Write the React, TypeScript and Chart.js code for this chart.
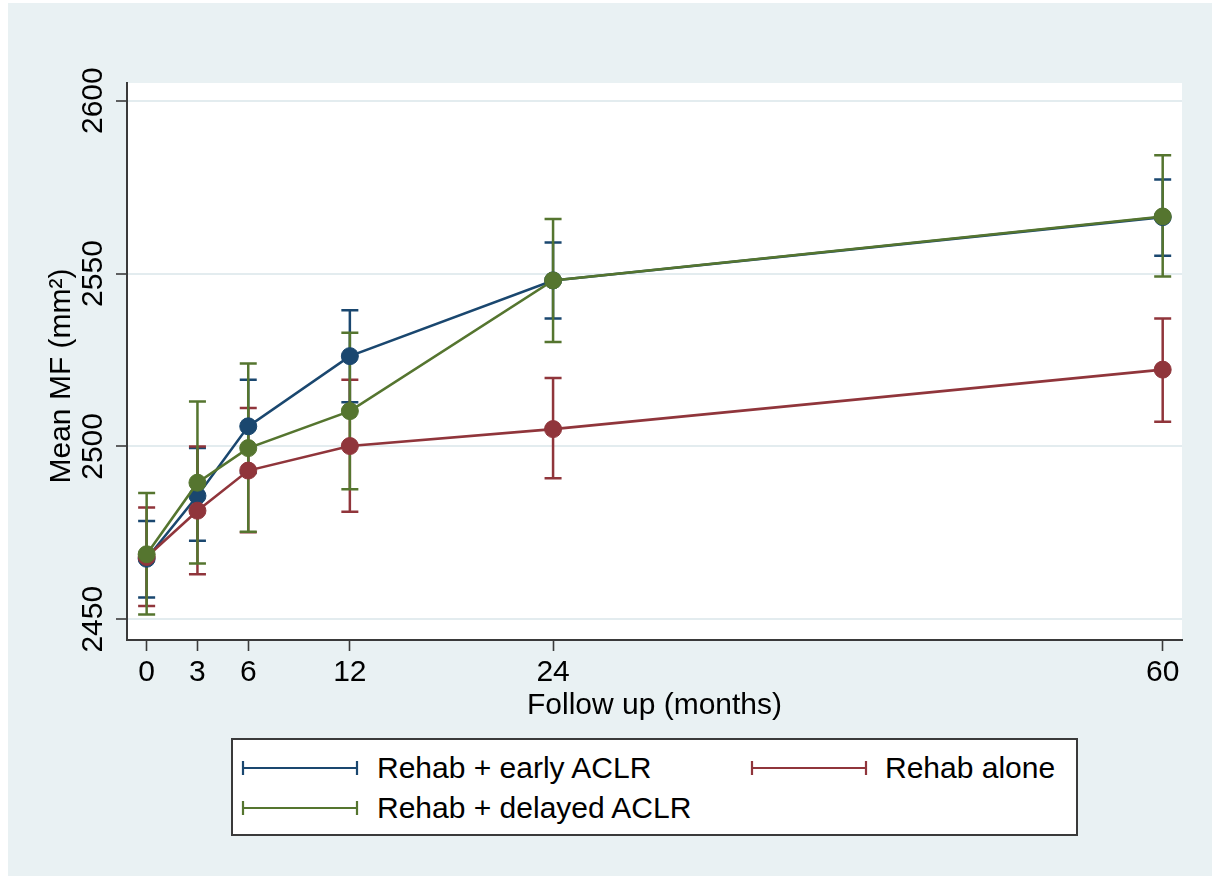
import React, { useEffect, useRef } from "react";
import { Chart, registerables } from "chart.js";

Chart.register(...registerables);

const W = 1212;
const H = 876;
const FONT = '"Liberation Sans", Arial, Helvetica, sans-serif';
const BG = "#e9f1f3";
const GRID = "#e3ecef";
const AXIS = "#3a3a3a";
const BLUE = "#1a476f";
const RED = "#90353b";
const GREEN = "#55752f";

const months = [0, 3, 6, 12, 24, 60];
const xTickValues = [0, 3, 6, 12, 24, 60];
const yTickValues = [2450, 2500, 2550, 2600];

const earlyMean = [2467.5, 2485.7, 2505.8, 2526.1, 2548.0, 2566.3];
const earlyLow = [2456.3, 2472.7, 2492.3, 2512.8, 2537.0, 2555.1];
const earlyHigh = [2478.4, 2499.5, 2519.3, 2539.4, 2559.0, 2577.2];

const aloneMean = [2468.0, 2481.4, 2493.0, 2500.1, 2505.0, 2522.2];
const aloneLow = [2453.8, 2463.0, 2475.2, 2481.1, 2490.8, 2507.1];
const aloneHigh = [2482.3, 2500.0, 2511.1, 2519.3, 2519.8, 2537.0];

const delayedMean = [2468.8, 2489.5, 2499.5, 2510.2, 2548.0, 2566.5];
const delayedLow = [2451.4, 2466.1, 2475.3, 2487.6, 2530.2, 2549.1];
const delayedHigh = [2486.5, 2513.0, 2524.0, 2532.9, 2565.8, 2584.2];

const seriesLabels = ["Rehab + early ACLR", "Rehab alone", "Rehab + delayed ACLR"];

const xTitle = "Follow up (months)";
const yTitle = "Mean MF (mm\u00b2)";

const FS = 30;

export default function App() {
  const ref = useRef<HTMLCanvasElement>(null);

  useEffect(() => {
    const canvas = ref.current;
    if (!canvas) return;

    const series = [
      { label: seriesLabels[0], color: BLUE, mean: earlyMean, lo: earlyLow, hi: earlyHigh, order: 3 },
      { label: seriesLabels[1], color: RED, mean: aloneMean, lo: aloneLow, hi: aloneHigh, order: 2 },
      { label: seriesLabels[2], color: GREEN, mean: delayedMean, lo: delayedLow, hi: delayedHigh, order: 1 },
    ];

    const bgPlugin = {
      id: "bgPlugin",
      beforeDraw(chart: any) {
        const { ctx, chartArea } = chart;
        ctx.save();
        ctx.fillStyle = "#ffffff";
        ctx.fillRect(0, 0, W, H);
        ctx.fillStyle = BG;
        ctx.fillRect(8, 3, W - 8, H - 3);
        ctx.fillStyle = "#ffffff";
        ctx.fillRect(chartArea.left, chartArea.top, chartArea.right - chartArea.left, chartArea.bottom - chartArea.top);
        ctx.restore();
      },
    };

    const errorBarPlugin = {
      id: "errorBarPlugin",
      beforeDatasetsDraw(chart: any) {
        const { ctx, scales } = chart;
        const xs = scales.x;
        const ys = scales.y;
        ctx.save();
        ctx.lineWidth = 2.5;
        ctx.lineCap = "butt";
        series.forEach((s) => {
          ctx.strokeStyle = s.color;
          months.forEach((m, i) => {
            const px = xs.getPixelForValue(m);
            const yl = ys.getPixelForValue(s.lo[i]);
            const yh = ys.getPixelForValue(s.hi[i]);
            ctx.beginPath();
            ctx.moveTo(px, yl);
            ctx.lineTo(px, yh);
            ctx.moveTo(px - 8.5, yl);
            ctx.lineTo(px + 8.5, yl);
            ctx.moveTo(px - 8.5, yh);
            ctx.lineTo(px + 8.5, yh);
            ctx.stroke();
          });
        });
        ctx.restore();
      },
    };

    const textPlugin = {
      id: "textPlugin",
      afterDraw(chart: any) {
        const { ctx, scales } = chart;
        const ys = scales.y;
        ctx.save();
        ctx.fillStyle = "#000";
        ctx.font = `${FS}px ${FONT}`;
        ctx.textAlign = "center";
        ctx.textBaseline = "alphabetic";
        yTickValues.forEach((v) => {
          const py = ys.getPixelForValue(v);
          ctx.save();
          ctx.translate(102, py);
          ctx.rotate(-Math.PI / 2);
          ctx.fillText(String(v), 0, 0);
          ctx.restore();
        });
        ctx.save();
        ctx.translate(70, 376);
        ctx.rotate(-Math.PI / 2);
        ctx.fillText(yTitle, 0, 0);
        ctx.restore();
        ctx.restore();
      },
    };

    const chart = new Chart(canvas, {
      type: "line",
      data: {
        datasets: series.map((s) => ({
          label: s.label,
          data: months.map((m, i) => ({ x: m, y: s.mean[i] })),
          borderColor: s.color,
          backgroundColor: s.color,
          pointBackgroundColor: s.color,
          pointBorderColor: s.color,
          pointRadius: 8.5,
          pointBorderWidth: 1,
          borderWidth: 2.6,
          tension: 0,
          fill: false,
          order: s.order,
        })),
      },
      options: {
        animation: false,
        responsive: false,
        devicePixelRatio: 1,
        layout: { padding: { top: 83, right: 30, bottom: 0, left: 0 } },
        plugins: {
          legend: { display: false },
          tooltip: { enabled: false },
        },
        scales: {
          x: {
            type: "linear",
            min: -1.16,
            max: 61.14,
            afterBuildTicks(scale: any) {
              scale.ticks = xTickValues.map((v) => ({ value: v }));
            },
            afterFit(scale: any) {
              scale.height = H - 640;
            },
            grid: {
              drawOnChartArea: false,
              drawTicks: true,
              tickLength: 11,
              tickColor: AXIS,
              tickWidth: 1.6,
            },
            border: { display: true, color: AXIS, width: 2 },
            ticks: {
              color: "#000",
              font: { family: FONT, size: FS },
              padding: 4,
              maxRotation: 0,
              minRotation: 0,
              callback: (v: any) => String(v),
            },
            title: {
              display: true,
              text: xTitle,
              color: "#000",
              font: { family: FONT, size: FS },
              padding: { top: 0, bottom: 152 },
            },
          },
          y: {
            type: "linear",
            min: 2444.0,
            max: 2605.1,
            afterBuildTicks(scale: any) {
              scale.ticks = yTickValues.map((v) => ({ value: v }));
            },
            afterFit(scale: any) {
              scale.width = 127;
            },
            grid: {
              color: GRID,
              lineWidth: 2,
              drawTicks: true,
              tickLength: 11,
              tickColor: AXIS,
              tickWidth: 1.6,
            },
            border: { display: true, color: AXIS, width: 2 },
            ticks: { display: false },
          },
        },
      },
      plugins: [bgPlugin, errorBarPlugin, textPlugin],
    } as any);

    return () => chart.destroy();
  }, []);

  const legendRows = [
    { label: seriesLabels[0], color: BLUE, lineX: 243, textX: 377, y: 768 },
    { label: seriesLabels[1], color: RED, lineX: 752, textX: 885, y: 768 },
    { label: seriesLabels[2], color: GREEN, lineX: 243, textX: 377, y: 808 },
  ];

  return (
    <div style={{ position: "fixed", left: 0, top: 0, width: W, height: H, overflow: "hidden" }}>
      <canvas ref={ref} width={W} height={H} style={{ position: "absolute", left: 0, top: 0, width: W, height: H }} />
      <div
        style={{
          position: "absolute",
          left: 231,
          top: 738,
          width: 847,
          height: 98,
          boxSizing: "border-box",
          border: `2px solid ${AXIS}`,
          background: "#fff",
        }}
      />
      {legendRows.map((r) => (
        <React.Fragment key={r.label}>
          <svg
            width={118}
            height={18}
            style={{ position: "absolute", left: r.lineX - 2, top: r.y - 9 }}
          >
            <line x1={2} y1={9} x2={116} y2={9} stroke={r.color} strokeWidth={2.2} />
            <line x1={2} y1={2} x2={2} y2={16} stroke={r.color} strokeWidth={2.2} />
            <line x1={116} y1={2} x2={116} y2={16} stroke={r.color} strokeWidth={2.2} />
          </svg>
          <div
            style={{
              position: "absolute",
              left: r.textX,
              top: r.y - 18,
              height: 36,
              lineHeight: "36px",
              fontFamily: FONT,
              fontSize: FS,
              color: "#000",
              whiteSpace: "nowrap",
            }}
          >
            {r.label}
          </div>
        </React.Fragment>
      ))}
    </div>
  );
}
